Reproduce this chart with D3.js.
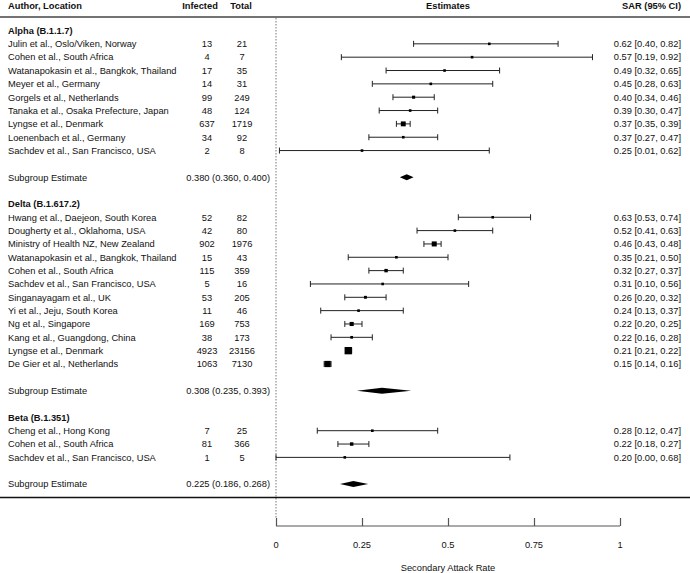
<!DOCTYPE html>
<html><head><meta charset="utf-8">
<script src="https://cdn.jsdelivr.net/npm/d3@7"></script>
<style>
html,body{margin:0;padding:0;background:#fff;}
svg text{font-family:"Liberation Sans",Arial,sans-serif;font-size:9.3px;fill:#111;}
</style></head>
<body>
<svg id="chart" width="690" height="573"></svg>
<script>
// ---- data ----
const groupNames = ["Alpha (B.1.1.7)", "Delta (B.1.617.2)", "Beta (B.1.351)"];
const groupEst = [0.380, 0.308, 0.225];
const groupLo = [0.360, 0.235, 0.186];
const groupHi = [0.400, 0.393, 0.268];

const studies = [
  "Julin et al., Oslo/Viken, Norway",
  "Cohen et al., South Africa",
  "Watanapokasin et al., Bangkok, Thailand",
  "Meyer et al., Germany",
  "Gorgels et al., Netherlands",
  "Tanaka et al., Osaka Prefecture, Japan",
  "Lyngse et al., Denmark",
  "Loenenbach et al., Germany",
  "Sachdev et al., San Francisco, USA",
  "Hwang et al., Daejeon, South Korea",
  "Dougherty et al., Oklahoma, USA",
  "Ministry of Health NZ, New Zealand",
  "Watanapokasin et al., Bangkok, Thailand",
  "Cohen et al., South Africa",
  "Sachdev et al., San Francisco, USA",
  "Singanayagam et al., UK",
  "Yi et al., Jeju, South Korea",
  "Ng et al., Singapore",
  "Kang et al., Guangdong, China",
  "Lyngse et al., Denmark",
  "De Gier et al., Netherlands",
  "Cheng et al., Hong Kong",
  "Cohen et al., South Africa",
  "Sachdev et al., San Francisco, USA"
];
const studyGroup = [0,0,0,0,0,0,0,0,0, 1,1,1,1,1,1,1,1,1,1,1,1, 2,2,2];
const infected = [13,4,17,14,99,48,637,34,2, 52,42,902,15,115,5,53,11,169,38,4923,1063, 7,81,1];
const totals = [21,7,35,31,249,124,1719,92,8, 82,80,1976,43,359,16,205,46,753,173,23156,7130, 25,366,5];
const sar = [0.62,0.57,0.49,0.45,0.40,0.39,0.37,0.37,0.25, 0.63,0.52,0.46,0.35,0.32,0.31,0.26,0.24,0.22,0.22,0.21,0.15, 0.28,0.22,0.20];
const sarLo = [0.40,0.19,0.32,0.28,0.34,0.30,0.35,0.27,0.01, 0.53,0.41,0.43,0.21,0.27,0.10,0.20,0.13,0.20,0.16,0.21,0.14, 0.12,0.18,0.00];
const sarHi = [0.82,0.92,0.65,0.63,0.46,0.47,0.39,0.47,0.62, 0.74,0.63,0.48,0.50,0.37,0.56,0.32,0.37,0.25,0.28,0.22,0.16, 0.47,0.27,0.68];

const tickValues = [0, 0.25, 0.5, 0.75, 1];
const tickLabels = ["0", "0.25", "0.5", "0.75", "1"];

// ---- layout ----
const svg = d3.select("#chart");
const W = 690;
const x = d3.scaleLinear().domain([0, 1]).range([276, 620]);
const y = d3.scaleLinear().domain([0, 35]).range([30.5, 497.4]);
const markSize = d3.scaleLog().domain([150, 25000]).range([2.6, 7.4]).clamp(true);
const fmt2 = d3.format(".2f"), fmt3 = d3.format(".3f");

const rows = [];
let r = 0;
groupNames.forEach((g, gi) => {
  rows.push({type: "header", gi, row: r}); r++;
  studies.forEach((s, i) => {
    if (studyGroup[i] === gi) { rows.push({type: "study", i, row: r}); r++; }
  });
  r++;
  rows.push({type: "sub", gi, row: r}); r++;
  r++;
});

const hy = 8.5;
svg.append("text").attr("x", 8).attr("y", hy).attr("font-weight", "bold").text("Author, Location");
svg.append("text").attr("x", 200).attr("y", hy).attr("text-anchor", "middle").attr("font-weight", "bold").text("Infected");
svg.append("text").attr("x", 241).attr("y", hy).attr("text-anchor", "middle").attr("font-weight", "bold").text("Total");
svg.append("text").attr("x", 448).attr("y", hy).attr("text-anchor", "middle").attr("font-weight", "bold").text("Estimates");
svg.append("text").attr("x", 681).attr("y", hy).attr("text-anchor", "end").attr("font-weight", "bold").text("SAR (95% CI)");
svg.append("line").attr("x1", 0).attr("x2", W).attr("y1", 17).attr("y2", 17)
  .attr("stroke", "#444").attr("stroke-width", 1.5);

svg.append("line").attr("x1", x(0)).attr("x2", x(0)).attr("y1", 18).attr("y2", 519)
  .attr("stroke", "#777").attr("stroke-width", 1).attr("stroke-dasharray", "1.5,1.5");

const off = 3.3;

rows.forEach(d => {
  const yy = y(d.row);
  if (d.type === "header") {
    svg.append("text").attr("x", 8).attr("y", yy + off).attr("font-weight", "bold").text(groupNames[d.gi]);
  } else if (d.type === "study") {
    const i = d.i;
    svg.append("text").attr("x", 8).attr("y", yy + off).text(studies[i]);
    svg.append("text").attr("x", 207).attr("y", yy + off).attr("text-anchor", "middle").text(infected[i]);
    svg.append("text").attr("x", 242).attr("y", yy + off).attr("text-anchor", "middle").text(totals[i]);
    svg.append("text").attr("x", 681).attr("y", yy + off).attr("text-anchor", "end")
      .text(`${fmt2(sar[i])} [${fmt2(sarLo[i])}, ${fmt2(sarHi[i])}]`);
    const g = svg.append("g").attr("stroke", "#222").attr("stroke-width", 1);
    g.append("line").attr("x1", x(sarLo[i])).attr("x2", x(sarHi[i])).attr("y1", yy).attr("y2", yy);
    g.append("line").attr("x1", x(sarLo[i])).attr("x2", x(sarLo[i])).attr("y1", yy - 3).attr("y2", yy + 3);
    g.append("line").attr("x1", x(sarHi[i])).attr("x2", x(sarHi[i])).attr("y1", yy - 3).attr("y2", yy + 3);
    const s = markSize(totals[i]);
    svg.append("rect").attr("x", x(sar[i]) - s / 2).attr("y", yy - s / 2)
      .attr("width", s).attr("height", s).attr("fill", "#000");
  } else {
    const gi = d.gi;
    svg.append("text").attr("x", 8).attr("y", yy + off).text("Subgroup Estimate");
    svg.append("text").attr("x", 270).attr("y", yy + off).attr("text-anchor", "end")
      .text(`${fmt3(groupEst[gi])} (${fmt3(groupLo[gi])}, ${fmt3(groupHi[gi])})`);
    const pts = [[x(groupLo[gi]), yy], [x(groupEst[gi]), yy - 3], [x(groupHi[gi]), yy], [x(groupEst[gi]), yy + 3]];
    svg.append("polygon").attr("points", pts.map(p => p.join(",")).join(" ")).attr("fill", "#000");
  }
});

svg.append("line").attr("x1", 0).attr("x2", W).attr("y1", y(35)).attr("y2", y(35))
  .attr("stroke", "#111").attr("stroke-width", 1.5);

const axisY = 526;
const axis = d3.axisTop(x).tickValues(tickValues).tickSize(8).tickPadding(0).tickFormat(() => "");
const ag = svg.append("g").attr("transform", `translate(0,${axisY})`).call(axis);
ag.select(".domain").attr("stroke", "#555").attr("d", `M${x(0)},0H${x(1)}`);
ag.selectAll(".tick line").attr("stroke", "#555").attr("stroke-width", 1.2);
svg.selectAll(".ticklabel").data(tickValues).enter().append("text")
  .attr("class", "ticklabel").attr("x", d => x(d)).attr("y", 547.5)
  .attr("text-anchor", "middle").text((d, i) => tickLabels[i]);
svg.append("text").attr("x", x(0.5)).attr("y", 571).attr("text-anchor", "middle").text("Secondary Attack Rate");
</script>
</body></html>
